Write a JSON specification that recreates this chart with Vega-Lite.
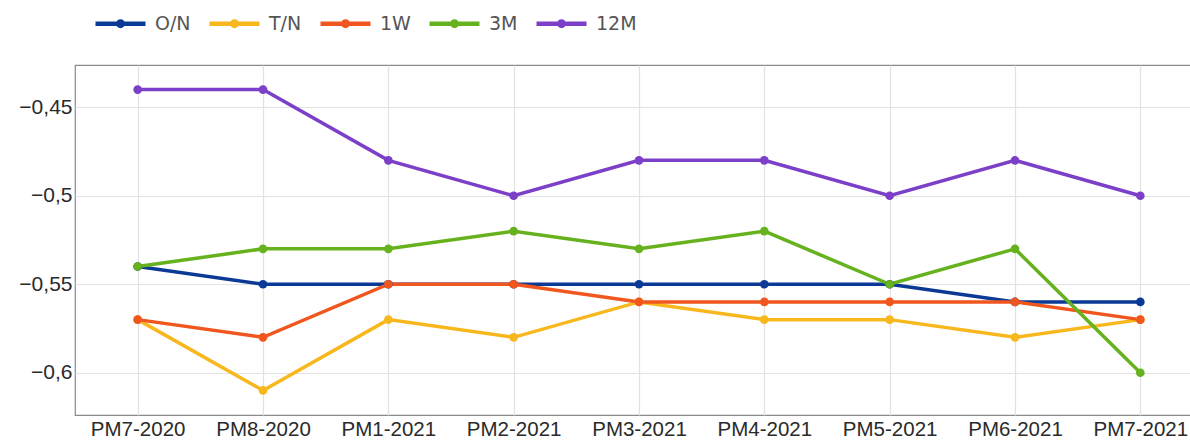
{
  "$schema": "https://vega.github.io/schema/vega-lite/v6.json",
  "autosize": {"type": "none"},
  "padding": {"left": 75, "top": 65, "right": 0, "bottom": 26},
  "width": 1128,
  "height": 350,
  "background": "white",
  "config": {
    "view": {"stroke": "#8a8a8a", "strokeWidth": 1.2},
    "font": "Liberation Sans"
  },
  "data": {
    "values": [
      {"period": "PM7-2020", "series": "O/N", "value": -0.54},
      {"period": "PM8-2020", "series": "O/N", "value": -0.55},
      {"period": "PM1-2021", "series": "O/N", "value": -0.55},
      {"period": "PM2-2021", "series": "O/N", "value": -0.55},
      {"period": "PM3-2021", "series": "O/N", "value": -0.55},
      {"period": "PM4-2021", "series": "O/N", "value": -0.55},
      {"period": "PM5-2021", "series": "O/N", "value": -0.55},
      {"period": "PM6-2021", "series": "O/N", "value": -0.56},
      {"period": "PM7-2021", "series": "O/N", "value": -0.56},
      {"period": "PM7-2020", "series": "T/N", "value": -0.57},
      {"period": "PM8-2020", "series": "T/N", "value": -0.61},
      {"period": "PM1-2021", "series": "T/N", "value": -0.57},
      {"period": "PM2-2021", "series": "T/N", "value": -0.58},
      {"period": "PM3-2021", "series": "T/N", "value": -0.56},
      {"period": "PM4-2021", "series": "T/N", "value": -0.57},
      {"period": "PM5-2021", "series": "T/N", "value": -0.57},
      {"period": "PM6-2021", "series": "T/N", "value": -0.58},
      {"period": "PM7-2021", "series": "T/N", "value": -0.57},
      {"period": "PM7-2020", "series": "1W", "value": -0.57},
      {"period": "PM8-2020", "series": "1W", "value": -0.58},
      {"period": "PM1-2021", "series": "1W", "value": -0.55},
      {"period": "PM2-2021", "series": "1W", "value": -0.55},
      {"period": "PM3-2021", "series": "1W", "value": -0.56},
      {"period": "PM4-2021", "series": "1W", "value": -0.56},
      {"period": "PM5-2021", "series": "1W", "value": -0.56},
      {"period": "PM6-2021", "series": "1W", "value": -0.56},
      {"period": "PM7-2021", "series": "1W", "value": -0.57},
      {"period": "PM7-2020", "series": "3M", "value": -0.54},
      {"period": "PM8-2020", "series": "3M", "value": -0.53},
      {"period": "PM1-2021", "series": "3M", "value": -0.53},
      {"period": "PM2-2021", "series": "3M", "value": -0.52},
      {"period": "PM3-2021", "series": "3M", "value": -0.53},
      {"period": "PM4-2021", "series": "3M", "value": -0.52},
      {"period": "PM5-2021", "series": "3M", "value": -0.55},
      {"period": "PM6-2021", "series": "3M", "value": -0.53},
      {"period": "PM7-2021", "series": "3M", "value": -0.60},
      {"period": "PM7-2020", "series": "12M", "value": -0.44},
      {"period": "PM8-2020", "series": "12M", "value": -0.44},
      {"period": "PM1-2021", "series": "12M", "value": -0.48},
      {"period": "PM2-2021", "series": "12M", "value": -0.50},
      {"period": "PM3-2021", "series": "12M", "value": -0.48},
      {"period": "PM4-2021", "series": "12M", "value": -0.48},
      {"period": "PM5-2021", "series": "12M", "value": -0.50},
      {"period": "PM6-2021", "series": "12M", "value": -0.48},
      {"period": "PM7-2021", "series": "12M", "value": -0.50}
    ]
  },
  "encoding": {
    "x": {
      "field": "period",
      "type": "ordinal",
      "sort": null,
      "scale": {"type": "point", "padding": 0.5},
      "axis": {
        "title": null,
        "labelAngle": 0,
        "labelFontSize": 20.5,
        "labelColor": "#2a2a2a",
        "labelPadding": 4,
        "ticks": false,
        "domain": false,
        "grid": true,
        "gridColor": "#e2e2e2",
        "gridWidth": 1.2
      }
    },
    "y": {
      "field": "value",
      "type": "quantitative",
      "scale": {"domain": [-0.6239, -0.4261], "nice": false, "zero": false},
      "axis": {
        "title": null,
        "values": [-0.6, -0.55, -0.5, -0.45],
        "labelExpr": "replace(replace(format(datum.value, '~g'), '.', ','), '-', '\u2212 ')",
        "labelFontSize": 21,
        "labelColor": "#2a2a2a",
        "labelPadding": 3,
        "ticks": false,
        "domain": false,
        "grid": true,
        "gridColor": "#e2e2e2",
        "gridWidth": 1.2
      }
    },
    "color": {
      "field": "series",
      "type": "nominal",
      "sort": ["O/N", "T/N", "1W", "3M", "12M"],
      "scale": {
        "domain": ["O/N", "T/N", "1W", "3M", "12M"],
        "range": ["#0b3a96", "#f8b71d", "#f0561e", "#66b21e", "#7b3fc8"]
      },
      "legend": {
        "title": null,
        "orient": "none",
        "direction": "horizontal",
        "legendX": 18,
        "legendY": -69,
        "symbolType": "M-1,0H1M0.09,0A0.09,0.09,0,1,1,-0.09,0A0.09,0.09,0,1,1,0.09,0Z",
        "symbolSize": 2500,
        "symbolStrokeWidth": 4.5,
        "labelFont": "DejaVu Sans",
        "labelFontSize": 19,
        "labelColor": "#555555",
        "labelOffset": 7,
        "columnPadding": 9
      }
    }
  },
  "layer": [
    {"mark": {"type": "line", "strokeWidth": 3.5}},
    {"mark": {"type": "point", "filled": true, "size": 75, "opacity": 1}}
  ]
}
